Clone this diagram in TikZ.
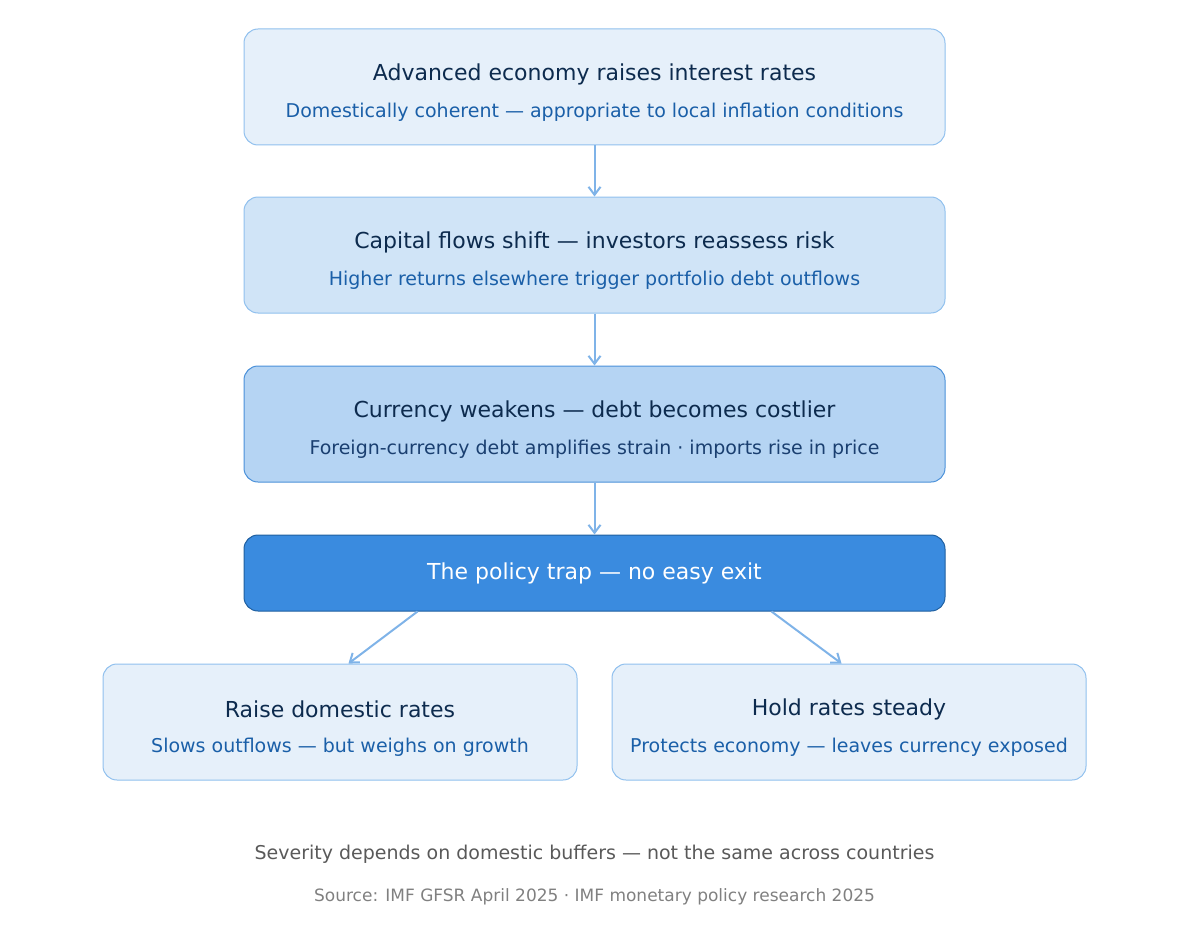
\documentclass[tikz,border=0pt]{standalone}
\usepackage{fontspec}
\setmainfont{DejaVu Sans}
\definecolor{fillA}{HTML}{E6F0FA}
\definecolor{fillB}{HTML}{D0E4F7}
\definecolor{fillC}{HTML}{B5D4F3}
\definecolor{fillD}{HTML}{3A8BDF}
\definecolor{lineA}{HTML}{90C0EE}
\definecolor{lineC}{HTML}{4A90D9}
\definecolor{lineD}{HTML}{1F5FA0}
\definecolor{titlecol}{HTML}{0D2B4E}
\definecolor{subcol}{HTML}{1A5FA8}
\definecolor{subdark}{HTML}{1A3F70}
\definecolor{arrowcol}{HTML}{7FB3E8}
\usetikzlibrary{arrows.meta}
\tikzset{
  stage/.style={draw=lineA, fill=fillA, rounded corners=7pt, line width=0.5pt,
    minimum width=350.5pt, minimum height=58pt, inner sep=0pt},
  branch/.style={stage, minimum width=237pt},
  title/.style={font=\fontsize{11}{13}\selectfont, text=titlecol},
  sub/.style={font=\fontsize{9.5}{11}\selectfont, text=subcol},
  arr/.style={draw=arrowcol, line width=1pt, -{Straight Barb[length=4pt,width=6pt]}}
}
\begin{document}
\begin{tikzpicture}[x=0.5pt, y=-0.5pt]
  \useasboundingbox (0,0) rectangle (1186,936);

  % stages
  \node[stage] (b1) at (594.5, 87) {};
  \node[title] at (594.5, 74) {Advanced economy raises interest rates};
  \node[sub] at (594.5, 112) {Domestically coherent — appropriate to local inflation conditions};

  \node[stage, fill=fillB] (b2) at (594.5, 255) {};
  \node[title] at (594.5, 242) {Capital flows shift — investors reassess risk};
  \node[sub] at (594.5, 280) {Higher returns elsewhere trigger portfolio debt outflows};

  \node[stage, fill=fillC, draw=lineC] (b3) at (594.5, 424) {};
  \node[title] at (594.5, 411) {Currency weakens — debt becomes costlier};
  \node[sub, text=subdark] at (594.5, 449) {Foreign-currency debt amplifies strain · imports rise in price};

  \node[stage, fill=fillD, draw=lineD, minimum height=38pt] (b4) at (594.5, 573) {};
  \node[title, text=white] at (594.5, 573) {The policy trap — no easy exit};

  % branches
  \node[branch] (b5) at (340, 722) {};
  \node[title] at (340, 709) {Raise domestic rates};
  \node[sub] at (340, 747) {Slows outflows — but weighs on growth};

  \node[branch] (b6) at (849, 722) {};
  \node[title] at (849, 709) {Hold rates steady};
  \node[sub] at (849, 747) {Protects economy — leaves currency exposed};

  \draw[arr] (b1) -- (b2);
  \draw[arr] (b2) -- (b3);
  \draw[arr] (b3) -- (b4);
  \draw[arr] ([xshift=87pt]b4.south west) -- ([xshift=123pt]b5.north west);
  \draw[arr] ([xshift=-87pt]b4.south east) -- ([xshift=115pt]b6.north west);

  \node[font=\fontsize{9.5}{11}\selectfont, text=black!65] at (594.5, 854)
    {Severity depends on domestic buffers — not the same across countries};
  \node[font=\fontsize{8.5}{10}\selectfont, text=black!50] at (594.5, 897)
    {Source: IMF GFSR April 2025 · IMF monetary policy research 2025};
\end{tikzpicture}
\end{document}
